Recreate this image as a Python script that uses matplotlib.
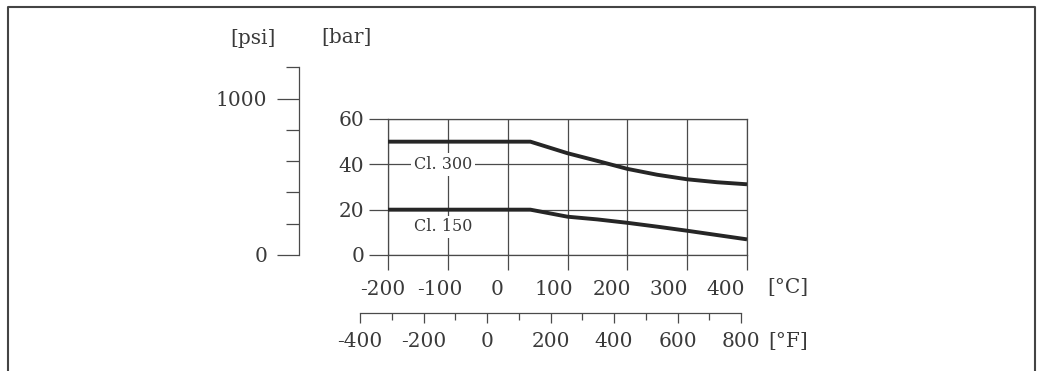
import matplotlib.pyplot as plt
from matplotlib.lines import Line2D
from matplotlib.ticker import MultipleLocator

plt.rcParams['font.family'] = ['DejaVu Serif']

# pressure-temperature ratings
temp_c = [-200, 38, 100, 150, 200, 250, 300, 350, 400]
cl300 = [50, 50, 44.9, 41.5, 38.0, 35.4, 33.4, 32.1, 31.2]
cl150 = [20, 20, 16.9, 15.7, 14.2, 12.5, 10.7, 8.8, 6.9]
c_ticks = [-200, -100, 0, 100, 200, 300, 400]
f_ticks = [-400, -200, 0, 200, 400, 600, 800]
bar_ticks = [0, 20, 40, 60]
psi_ticks = [0, 1000]

W, H = 1042, 371
txt = '#3a3a3a'
grid = '#4a4a4a'
fs = 14.5


def fx(x):
    return x / W


def fy(y):
    return 1 - y / H


fig = plt.figure(figsize=(W / 100, H / 100), dpi=100)

# main chart
ax = fig.add_axes([fx(388), fy(255), fx(747 - 388), (255 - 119) / H])
ax.plot(temp_c, cl300, color='#262626', lw=2.8, solid_capstyle='butt', zorder=3)
ax.plot(temp_c, cl150, color='#262626', lw=2.8, solid_capstyle='butt', zorder=3)
ax.set_xlim(-200, 400)
ax.set_ylim(0, 60)
ax.set_xticks(c_ticks)
ax.set_xticklabels([])
ax.set_yticks(bar_ticks)
ax.set_yticklabels([str(v) for v in bar_ticks], fontsize=fs, color=txt)
ax.tick_params(axis='y', length=13.7, width=0.9, color=grid, pad=3.5)
ax.tick_params(axis='x', length=10.8, width=0.9, color=grid)
ax.grid(True, color=grid, lw=0.9)
for s in ax.spines.values():
    s.set_color(grid)
    s.set_linewidth(0.9)
ax.text(-108, 40, 'Cl. 300', fontsize=11.5, color=txt, ha='center', va='center',
        bbox=dict(facecolor='white', edgecolor='none', pad=2), zorder=4)
ax.text(-108, 12.4, 'Cl. 150', fontsize=11.5, color=txt, ha='center', va='center',
        bbox=dict(facecolor='white', edgecolor='none', pad=2), zorder=4)

# psi scale, tied to the bar scale
psi_top = 1200
psi_h = (255 - 119) / H * (psi_top / 14.5038) / 60
pax = fig.add_axes([fx(299), fy(255), 0.0005, psi_h])
pax.set_ylim(0, psi_top)
pax.set_xticks([])
for k in ['top', 'bottom', 'right']:
    pax.spines[k].set_visible(False)
pax.spines['left'].set_color(grid)
pax.spines['left'].set_linewidth(0.9)
pax.set_yticks(psi_ticks)
pax.set_yticklabels([str(v) for v in psi_ticks], fontsize=fs, color=txt)
pax.yaxis.set_minor_locator(MultipleLocator(200))
pax.tick_params(axis='y', which='major', length=16, width=0.9, color=grid, pad=7)
pax.tick_params(axis='y', which='minor', length=9.5, width=0.9, color=grid)
pax.patch.set_visible(False)

# Fahrenheit scale with Celsius labels above it
fax = fig.add_axes([fx(360), fy(313), fx(741 - 360), 0.0005])
fax.set_xlim(-400, 800)
fax.set_yticks([])
for k in ['top', 'left', 'right']:
    fax.spines[k].set_visible(False)
fax.spines['bottom'].set_color(grid)
fax.spines['bottom'].set_linewidth(0.9)
fax.set_xticks(f_ticks)
fax.set_xticklabels([str(v) for v in f_ticks], fontsize=fs, color=txt)
fax.xaxis.set_minor_locator(MultipleLocator(100))
fax.tick_params(axis='x', which='major', length=7.5, width=0.9, color=grid, pad=6.5)
fax.tick_params(axis='x', which='minor', length=5, width=0.9, color=grid)
fax.patch.set_visible(False)

cax = fax.secondary_xaxis('top', functions=(lambda f: (f - 32) / 1.8,
                                            lambda c: c * 1.8 + 32))
cax.set_xticks(c_ticks)
cax.set_xticklabels([str(v) for v in c_ticks], fontsize=fs, color=txt)
cax.tick_params(axis='x', length=0, pad=10)
cax.spines['top'].set_visible(False)

# unit labels
fig.text(fx(253), fy(38), '[psi]', fontsize=fs, color=txt, ha='center', va='center')
fig.text(fx(346), fy(38), '[bar]', fontsize=fs, color=txt, ha='center', va='center')
fig.text(fx(788), fy(288), '[°C]', fontsize=fs, color=txt, ha='center', va='center')
fig.text(fx(788), fy(341), '[°F]', fontsize=fs, color=txt, ha='center', va='center')

# frame around the drawing
fr = dict(color='#444444', lw=1.5, transform=fig.transFigure)
fig.add_artist(Line2D([fx(8), fx(8), fx(1035), fx(1035)],
                      [0, fy(7), fy(7), 0], **fr))

fig.savefig('out.png', dpi=100)
